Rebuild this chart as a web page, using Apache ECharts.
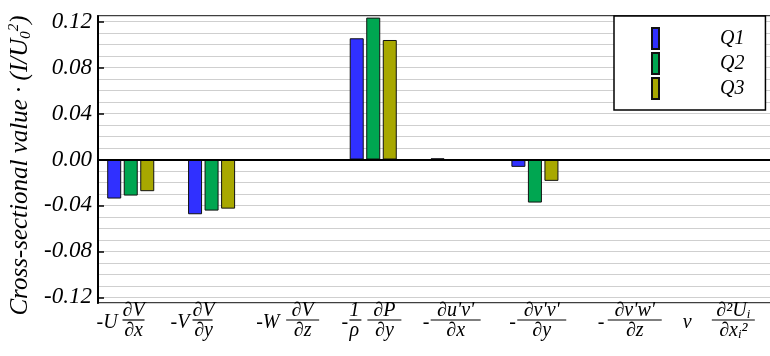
<!DOCTYPE html>
<html>
<head>
<meta charset="utf-8">
<script src="https://cdn.jsdelivr.net/npm/echarts@6/dist/echarts.min.js"></script>
<style>
    html, body {margin: 0; padding: 0; background: #fff;}
    #app {width: 770px; height: 356px;}
</style>
</head>
<body>
<div id="app"></div>
<script>
    //数据
    var termIndex = [1, 2, 3, 4, 5, 6, 7, 8]
    var q1 = [-0.034, -0.0477, 0, 0.1056, 0.001, -0.0064, 0, 0]
    var q2 = [-0.0314, -0.0445, 0, 0.1236, 0, -0.0375, 0, 0]
    var q3 = [-0.0276, -0.0428, 0, 0.1041, 0, -0.0186, 0, 0]
    var seriesNames = ['Q1', 'Q2', 'Q3']
    var seriesColors = ['#3030ff', '#00a651', '#a8a800']
    var yTicks = [-0.12, -0.08, -0.04, 0, 0.04, 0.08, 0.12]
    var labelPos = [0.874, 1.765, 2.941, 3.977, 4.970, 6.035, 7.173, 8.275]
    var termLabels = [
        '{s26| }{n|∂V}\n{p26|-U}{b22| }\n{s26| }{d|∂x}',
        '{s22| }{n|∂V}\n{p22|-V}{b20| }\n{s22| }{d|∂y}',
        '{s30| }{n|∂V}\n{p30|-W}{b33| }\n{s30| }{d|∂z}',
        '{s8| }{n12|1}{s6| }{n|∂P}\n{p8|-}{b12| }{s6| }{b34| }\n{s8| }{d12|ρ}{s6| }{d|∂y}',
        "{s8| }{n|∂u'v'}\n{p8|-}{b50| }\n{s8| }{d|∂x}",
        "{s8| }{n|∂v'v'}\n{p8|-}{b49| }\n{s8| }{d|∂y}",
        "{s10| }{n|∂v'w'}\n{p10|-}{b54| }\n{s10| }{d|∂z}",
        '{s29| }{n|∂²U}{nsub|i}\n{p29|ν}{b43| }\n{s29| }{d|∂x}{dsub|i}{d|²}'
    ]

    var F = "'Liberation Serif', 'Times New Roman', serif"
    var txt = {fontFamily: F, fontStyle: 'italic', fontSize: 20, color: '#000', verticalAlign: 'middle'}

    //公式标签样式
    var rich = {
        n: Object.assign({}, txt, {lineHeight: 14, align: 'center'}),
        d: Object.assign({}, txt, {lineHeight: 18, align: 'center'}),
        n12: Object.assign({}, txt, {lineHeight: 14, width: 12, align: 'left'}),
        d12: Object.assign({}, txt, {lineHeight: 18, width: 12, align: 'left'}),
        nsub: Object.assign({}, txt, {fontSize: 13, lineHeight: 14, align: 'center', padding: [8, 0, 0, 0]}),
        dsub: Object.assign({}, txt, {fontSize: 13, lineHeight: 18, align: 'center', padding: [8, 0, 0, 0]})
    }
    ;[6, 8, 10, 22, 26, 29, 30].forEach(function (w) {
        rich['s' + w] = {width: w, lineHeight: 4, align: 'left', verticalAlign: 'middle'}
        rich['p' + w] = Object.assign({}, txt, {width: w, lineHeight: 4, align: 'left', padding: [6, 0, 0, 0]})
    })
    ;[12, 20, 22, 33, 34, 43, 49, 50, 54].forEach(function (w) {
        rich['b' + w] = {width: w, height: 1.2, lineHeight: 4, backgroundColor: '#000', align: 'left', verticalAlign: 'middle'}
    })

    var chart = echarts.init(document.getElementById('app'))

    var bars = [q1, q2, q3].map(function (vals, k) {
        var s = {
            name: seriesNames[k],
            type: 'bar',
            yAxisIndex: 1,
            barWidth: 14,
            barGap: '18%',
            itemStyle: {color: seriesColors[k], borderColor: '#111', borderWidth: 1},
            data: vals.map(function (v, i) { return [termIndex[i], v] })
        }
        if (k === 0) {
            s.markLine = {
                silent: true,
                symbol: 'none',
                label: {show: false},
                lineStyle: {color: '#000', width: 2, type: 'solid'},
                data: [{yAxis: 0}]
            }
        }
        return s
    })

    chart.setOption({
        animation: false,
        backgroundColor: '#fff',
        grid: {
            left: 98, right: -5, top: 16, bottom: 53,
            show: true, borderColor: '#000', borderWidth: 1.5,
            outerBoundsMode: 'none'
        },
        legend: {
            data: seriesNames,
            orient: 'vertical',
            left: 614, top: 16,
            itemWidth: 7, itemHeight: 21, itemGap: 2,
            padding: [11, 21, 10, 37],
            icon: 'rect',
            borderColor: '#000', borderWidth: 1.5,
            backgroundColor: '#fff',
            textStyle: {fontFamily: F, fontStyle: 'italic', fontSize: 20, color: '#000', padding: [0, 0, 0, 56]}
        },
        xAxis: {
            type: 'value',
            min: 0.595, max: 8.97,
            axisLine: {lineStyle: {color: '#000', width: 2}},
            axisTick: {show: false},
            splitLine: {show: false},
            axisLabel: {
                customValues: labelPos,
                margin: 1,
                rich: rich,
                formatter: function (v) {
                    for (var i = 0; i < labelPos.length; i++) {
                        if (Math.abs(labelPos[i] - v) < 1e-6) return termLabels[i]
                    }
                    return ''
                }
            }
        },
        yAxis: [
            {
                type: 'value',
                position: 'left',
                min: -0.125, max: 0.125,
                splitNumber: 25,
                axisLine: {show: false},
                axisTick: {show: false},
                axisLabel: {show: false},
                splitLine: {lineStyle: {color: '#cfcfcf', width: 1.2}}
            },
            {
                type: 'value',
                position: 'left',
                min: -0.125, max: 0.125,
                axisLine: {show: true, lineStyle: {color: '#000', width: 2}},
                axisTick: {show: true, inside: true, length: 6, customValues: yTicks, lineStyle: {color: '#000', width: 1.5}},
                axisLabel: {
                    customValues: yTicks,
                    margin: 6,
                    fontFamily: F, fontStyle: 'italic', fontSize: 23, color: '#000',
                    formatter: function (v) { return v.toFixed(2) }
                },
                splitLine: {show: false},
                name: 'Cross-sectional value · (I/U{sb|0}{sp|2})',
                nameLocation: 'middle',
                nameGap: 59,
                nameTextStyle: {
                    fontFamily: F, fontStyle: 'italic', fontSize: 25, color: '#000',
                    padding: [0, 12, 0, 0],
                    rich: {
                        sb: {fontFamily: F, fontStyle: 'italic', fontSize: 15, color: '#000', padding: [11, 0, 0, 0]},
                        sp: {fontFamily: F, fontStyle: 'italic', fontSize: 15, color: '#000', padding: [0, 0, 13, 0]}
                    }
                }
            }
        ],
        series: bars
    })
</script>
</body>
</html>
